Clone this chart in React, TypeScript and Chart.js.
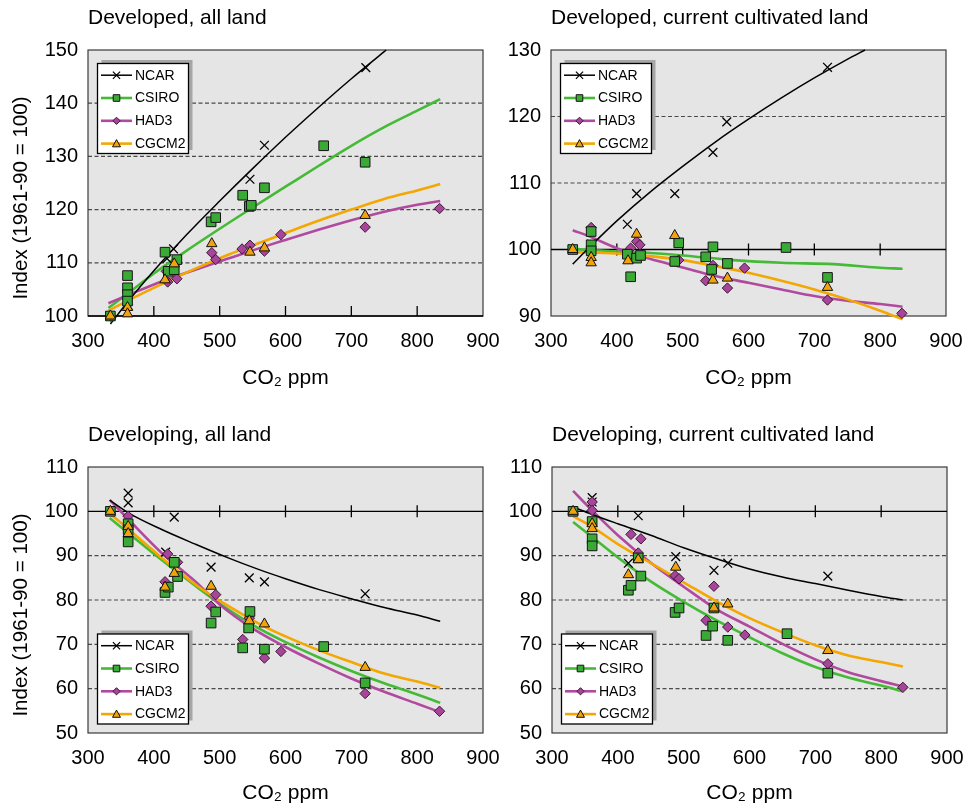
import React, { useEffect, useRef } from 'react';
import { Chart, registerables } from 'chart.js';

Chart.register(...registerables);

type Pt = [number, number];

// ---------- shared categories / ticks ----------
const SERIES = ['NCAR', 'CSIRO', 'HAD3', 'CGCM2'];
const X_TICKS = [300, 400, 500, 600, 700, 800, 900];
const BASELINE = 100;
const X_TITLE = 'CO₂ ppm';
const Y_TITLE = 'Index (1961-90 = 100)';

// ---------- Panel 1: Developed, all land ----------
const p1YTicks = [100, 110, 120, 130, 140, 150];
const p1Dashed = [110, 120, 130, 140];
const p1NcarLine: Pt[] = [[334, 98.5], [362, 102.9], [400, 108.5], [450, 115.3], [500, 121.6], [550, 127.7], [600, 133.6], [650, 139.2], [700, 144.6], [750, 149.7], [753, 150]];
const p1CsiroLine: Pt[] = [[331, 101.5], [360, 104.2], [400, 108.0], [450, 112.3], [500, 116.4], [550, 120.4], [600, 124.3], [650, 128.2], [700, 132.0], [750, 135.5], [800, 138.6], [835, 140.75]];
const p1Had3Line: Pt[] = [[331, 102.4], [362, 104.0], [412, 106.5], [463, 108.7], [513, 110.8], [564, 112.9], [600, 114.3], [650, 116.2], [700, 118.0], [750, 119.6], [800, 120.9], [835, 121.6]];
const p1Cgcm2Line: Pt[] = [[331, 101.0], [362, 103.0], [412, 106.0], [463, 108.9], [513, 111.5], [564, 113.9], [600, 115.6], [650, 117.9], [700, 120.0], [750, 122.0], [800, 123.6], [835, 124.8]];
const p1NcarPts: Pt[] = [[334, 100], [361, 102], [420, 110.8], [430, 112.6], [546, 125.7], [568, 132.1], [722, 146.7]];
const p1CsiroPts: Pt[] = [[334, 100], [360, 107.6], [360, 105.3], [360, 104.0], [360, 102.8], [417, 112.0], [422, 108.4], [431, 108.7], [435, 110.6], [487, 117.7], [494, 118.5], [535, 122.7], [545, 120.6], [548, 120.8], [568, 124.1], [658, 132.0], [721, 128.9]];
const p1Had3Pts: Pt[] = [[334, 100], [360, 102.2], [419, 108.4], [421, 106.4], [435, 107.0], [488, 111.9], [494, 110.6], [534, 112.6], [546, 113.3], [568, 112.2], [593, 115.3], [721, 116.7], [834, 120.2]];
const p1Cgcm2Pts: Pt[] = [[334, 100], [360, 101.6], [360, 100.4], [417, 106.8], [431, 109.8], [488, 113.6], [546, 112.0], [568, 112.8], [721, 118.9]];

// ---------- Panel 2: Developed, current cultivated land ----------
const p2YTicks = [90, 100, 110, 120, 130];
const p2Dashed = [110, 120];
const p2NcarLine: Pt[] = [[333, 97.8], [355, 100], [400, 104.3], [450, 108.6], [500, 112.5], [550, 116.2], [600, 119.6], [650, 122.8], [700, 125.8], [750, 128.6], [777, 130]];
const p2CsiroLine: Pt[] = [[333, 100.1], [400, 99.7], [446, 99.5], [500, 99.1], [577, 98.4], [650, 98.0], [729, 97.8], [795, 97.3], [834, 97.1]];
const p2Had3Line: Pt[] = [[333, 102.9], [360, 101.9], [400, 100.2], [450, 98.6], [500, 97.3], [550, 96.0], [600, 95.0], [650, 94.0], [700, 93.0], [750, 92.3], [800, 91.8], [834, 91.4]];
const p2Cgcm2Line: Pt[] = [[333, 99.6], [400, 99.4], [450, 99.0], [500, 98.4], [550, 97.5], [600, 96.5], [650, 95.3], [700, 94.0], [750, 92.5], [800, 90.8], [834, 89.5]];
const p2NcarPts: Pt[] = [[333, 100], [361, 100.8], [416, 103.8], [430, 108.4], [488, 108.4], [546, 114.6], [567, 119.2], [720, 127.4]];
const p2CsiroPts: Pt[] = [[333, 100], [361, 102.7], [361, 100.7], [361, 99.8], [416, 99.3], [421, 95.9], [430, 98.7], [436, 99.1], [488, 98.2], [494, 101.0], [535, 98.9], [544, 97.0], [546, 100.4], [568, 97.9], [657, 100.3], [720, 95.8]];
const p2Had3Pts: Pt[] = [[361, 103.3], [421, 100.2], [430, 101.2], [435, 100.7], [494, 98.4], [535, 95.3], [546, 97.6], [568, 94.2], [594, 97.2], [720, 92.4], [833, 90.4]];
const p2Cgcm2Pts: Pt[] = [[333, 100], [361, 98.8], [361, 98.0], [417, 98.3], [430, 102.3], [488, 102.1], [546, 95.4], [568, 95.7], [720, 94.3]];

// ---------- Panel 3: Developing, all land ----------
const p3YTicks = [50, 60, 70, 80, 90, 100, 110];
const p3Dashed = [60, 70, 80, 90];
const p3NcarLine: Pt[] = [[333, 102.5], [362, 99.6], [412, 95.9], [463, 92.6], [513, 89.5], [559, 86.9], [600, 84.8], [650, 82.4], [700, 80.3], [750, 78.3], [800, 76.6], [835, 75.2]];
const p3CsiroLine: Pt[] = [[333, 98.5], [362, 95.0], [412, 89.0], [463, 83.2], [500, 79.2], [550, 74.4], [600, 70.5], [650, 67.1], [700, 64.0], [750, 61.2], [800, 58.7], [835, 56.8]];
const p3Had3Line: Pt[] = [[333, 102.6], [362, 98.1], [412, 90.6], [463, 84.2], [500, 79.0], [550, 73.6], [600, 69.4], [650, 65.7], [700, 62.3], [750, 59.3], [800, 56.6], [835, 54.7]];
const p3Cgcm2Line: Pt[] = [[333, 99.5], [362, 95.9], [412, 89.5], [463, 83.5], [518, 78.2], [568, 74.0], [600, 71.8], [650, 68.7], [700, 66.0], [750, 63.4], [800, 61.6], [835, 60.2]];
const p3NcarPts: Pt[] = [[334, 100], [361, 104.1], [361, 101.9], [418, 90.8], [431, 98.7], [487, 87.4], [545, 85.0], [568, 84.1], [721, 81.4]];
const p3CsiroPts: Pt[] = [[334, 100], [361, 97.2], [361, 95.8], [361, 93.1], [417, 81.7], [422, 82.9], [431, 88.5], [436, 85.3], [487, 74.8], [494, 77.3], [535, 69.2], [544, 73.7], [546, 77.4], [568, 68.9], [658, 69.5], [721, 61.3]];
const p3Had3Pts: Pt[] = [[361, 98.9], [417, 84.1], [421, 90.4], [436, 88.5], [487, 78.6], [494, 81.2], [535, 71.1], [545, 75.9], [568, 66.9], [593, 68.4], [721, 58.9], [834, 54.9]];
const p3Cgcm2Pts: Pt[] = [[334, 100], [361, 96.6], [361, 95.0], [417, 82.9], [431, 86.0], [487, 83.1], [545, 75.3], [568, 74.6], [721, 64.8]];

// ---------- Panel 4: Developing, current cultivated land ----------
const p4YTicks = [50, 60, 70, 80, 90, 100, 110];
const p4Dashed = [60, 70, 80, 90];
const p4NcarLine: Pt[] = [[332, 101.0], [361, 99.3], [400, 97.2], [450, 94.6], [500, 91.8], [550, 89.3], [600, 87.0], [650, 85.2], [700, 83.7], [750, 82.2], [800, 80.8], [833, 80.0]];
const p4CsiroLine: Pt[] = [[332, 97.6], [361, 94.2], [400, 89.6], [450, 84.2], [500, 79.6], [550, 75.4], [600, 71.6], [650, 68.0], [700, 64.9], [750, 62.5], [800, 60.7], [833, 59.4]];
const p4Had3Line: Pt[] = [[332, 104.6], [361, 100.2], [400, 94.6], [450, 88.4], [500, 83.0], [550, 77.9], [600, 74.0], [650, 70.1], [700, 66.6], [750, 63.7], [800, 61.7], [833, 60.5]];
const p4Cgcm2Line: Pt[] = [[332, 98.9], [361, 96.5], [400, 92.6], [450, 88.3], [500, 84.0], [550, 79.7], [600, 75.9], [650, 72.7], [700, 69.8], [750, 67.5], [800, 66.0], [833, 65.0]];
const p4NcarPts: Pt[] = [[332, 100], [361, 103.1], [361, 102.1], [416, 88.3], [431, 99.0], [488, 89.8], [546, 86.7], [567, 88.3], [719, 85.4]];
const p4CsiroPts: Pt[] = [[332, 100], [361, 97.7], [361, 93.8], [361, 92.2], [416, 82.2], [420, 83.3], [431, 89.5], [435, 85.4], [487, 77.2], [493, 78.2], [534, 72.0], [544, 74.1], [546, 78.2], [567, 70.9], [657, 72.4], [719, 63.5]];
const p4Had3Pts: Pt[] = [[361, 102.1], [361, 100.2], [420, 94.8], [431, 90.6], [435, 93.8], [487, 85.5], [493, 84.8], [534, 75.4], [546, 83.1], [567, 73.9], [593, 72.1], [719, 65.6], [833, 60.3]];
const p4Cgcm2Pts: Pt[] = [[332, 100], [361, 97.2], [361, 96.1], [416, 85.7], [431, 89.1], [488, 87.4], [546, 78.2], [567, 79.1], [719, 68.6]];

// ---------- styles ----------
const FONT = "'Liberation Sans', Arial, Helvetica, sans-serif";
const STYLES = [
  { line: '#000000', lw: 1.5, style: 'crossRot', fill: '#000000', border: '#000000', r: 6.2, bw: 1.3, lineOrder: 20, ptOrder: 4 },
  { line: '#45ba36', lw: 2.6, style: 'rect', fill: '#3aa935', border: '#151515', r: 6.8, bw: 1, lineOrder: 23, ptOrder: 2 },
  { line: '#b14a9f', lw: 2.6, style: 'rectRot', fill: '#a8459a', border: '#3a1a35', r: 5.2, bw: 1, lineOrder: 22, ptOrder: 3 },
  { line: '#f3a700', lw: 2.6, style: 'triangle', fill: '#f2a30c', border: '#111111', r: 6, bw: 1, lineOrder: 21, ptOrder: 1 },
];

interface PanelCfg {
  title: string;
  yTicks: number[];
  dashed: number[];
  lines: Pt[][];
  pts: Pt[][];
  legendAt: 'top' | 'bottom';
  showYTitle: boolean;
  left: number;
  top: number;
  width: number;
  height: number;
  padRight: number;
  xAxisH: number;
  xTitlePad: number;
}

const PANELS: PanelCfg[] = [
  { title: 'Developed, all land', yTicks: p1YTicks, dashed: p1Dashed, lines: [p1NcarLine, p1CsiroLine, p1Had3Line, p1Cgcm2Line], pts: [p1NcarPts, p1CsiroPts, p1Had3Pts, p1Cgcm2Pts], legendAt: 'top', showYTitle: true, left: 0, top: 0, width: 520, height: 396, padRight: 37, xAxisH: 80, xTitlePad: 5 },
  { title: 'Developed, current cultivated land', yTicks: p2YTicks, dashed: p2Dashed, lines: [p2NcarLine, p2CsiroLine, p2Had3Line, p2Cgcm2Line], pts: [p2NcarPts, p2CsiroPts, p2Had3Pts, p2Cgcm2Pts], legendAt: 'top', showYTitle: false, left: 463, top: 0, width: 502, height: 396, padRight: 19, xAxisH: 80, xTitlePad: 5 },
  { title: 'Developing, all land', yTicks: p3YTicks, dashed: p3Dashed, lines: [p3NcarLine, p3CsiroLine, p3Had3Line, p3Cgcm2Line], pts: [p3NcarPts, p3CsiroPts, p3Had3Pts, p3Cgcm2Pts], legendAt: 'bottom', showYTitle: true, left: 0, top: 417, width: 520, height: 391, padRight: 37, xAxisH: 75, xTitlePad: 2 },
  { title: 'Developing, current cultivated land', yTicks: p4YTicks, dashed: p4Dashed, lines: [p4NcarLine, p4CsiroLine, p4Had3Line, p4Cgcm2Line], pts: [p4NcarPts, p4CsiroPts, p4Had3Pts, p4Cgcm2Pts], legendAt: 'bottom', showYTitle: false, left: 464, top: 417, width: 501, height: 391, padRight: 18, xAxisH: 75, xTitlePad: 2 },
];

const toXY = (arr: Pt[]) => arr.map(([x, y]) => ({ x, y }));

function drawLegendMarker(ctx: CanvasRenderingContext2D, i: number, x: number, y: number) {
  const st = STYLES[i];
  ctx.save();
  ctx.lineWidth = 1;
  ctx.fillStyle = st.fill;
  ctx.strokeStyle = st.border;
  ctx.beginPath();
  if (st.style === 'crossRot') {
    const d = 3.6;
    ctx.lineWidth = 1.2;
    ctx.moveTo(x - d, y - d); ctx.lineTo(x + d, y + d);
    ctx.moveTo(x - d, y + d); ctx.lineTo(x + d, y - d);
    ctx.stroke();
  } else if (st.style === 'rect') {
    const s = 3.3;
    ctx.rect(x - s, y - s, 2 * s, 2 * s);
    ctx.fill(); ctx.stroke();
  } else if (st.style === 'rectRot') {
    const s = 3.6;
    ctx.moveTo(x, y - s); ctx.lineTo(x + s, y); ctx.lineTo(x, y + s); ctx.lineTo(x - s, y); ctx.closePath();
    ctx.fill(); ctx.stroke();
  } else {
    const s = 4;
    ctx.moveTo(x, y - s); ctx.lineTo(x + s, y + s * 0.8); ctx.lineTo(x - s, y + s * 0.8); ctx.closePath();
    ctx.fill(); ctx.stroke();
  }
  ctx.restore();
}

function Panel({ cfg }: { cfg: PanelCfg }) {
  const ref = useRef<HTMLCanvasElement>(null);

  useEffect(() => {
    const canvas = ref.current;
    if (!canvas) return;
    const datasets: any[] = [];
    SERIES.forEach((name, i) => {
      const st = STYLES[i];
      datasets.push({
        label: name,
        data: toXY(cfg.lines[i]),
        borderColor: st.line,
        backgroundColor: st.line,
        borderWidth: st.lw,
        pointRadius: 0,
        fill: false,
        cubicInterpolationMode: 'monotone',
        clip: false,
        order: st.lineOrder,
      });
      datasets.push({
        label: name,
        data: toXY(cfg.pts[i]),
        showLine: false,
        pointStyle: st.style,
        pointRadius: st.r,
        pointBackgroundColor: st.fill,
        pointBorderColor: st.border,
        pointBorderWidth: st.bw,
        borderColor: st.border,
        backgroundColor: st.fill,
        clip: false,
        order: st.ptOrder,
      });
    });

    const yMin = cfg.yTicks[0];
    const yMax = cfg.yTicks[cfg.yTicks.length - 1];

    const decor = {
      id: 'decor',
      beforeDatasetsDraw(chart: any) {
        const { ctx, chartArea: a, scales } = chart;
        const xs = scales.x;
        const ys = scales.y;
        ctx.save();
        ctx.fillStyle = '#e5e5e5';
        ctx.fillRect(a.left, a.top, a.right - a.left, a.bottom - a.top);
        ctx.strokeStyle = '#4a4a4a';
        ctx.lineWidth = 1.2;
        ctx.setLineDash([4, 2.5]);
        cfg.dashed.forEach((v) => {
          const py = ys.getPixelForValue(v);
          ctx.beginPath();
          ctx.moveTo(a.left, py);
          ctx.lineTo(a.right, py);
          ctx.stroke();
        });
        ctx.setLineDash([]);
        ctx.strokeStyle = '#3a3a3a';
        ctx.lineWidth = 1.2;
        ctx.strokeRect(a.left, a.top, a.right - a.left, a.bottom - a.top);
        const by = ys.getPixelForValue(BASELINE);
        ctx.strokeStyle = '#000';
        ctx.lineWidth = 1.3;
        ctx.beginPath();
        ctx.moveTo(a.left, by);
        ctx.lineTo(a.right, by);
        ctx.stroke();
        const atBottom = Math.abs(by - a.bottom) < 1;
        X_TICKS.forEach((t) => {
          if (t <= xs.min || t >= xs.max) return;
          const px = xs.getPixelForValue(t);
          ctx.beginPath();
          ctx.moveTo(px, atBottom ? by - 10 : by - 6);
          ctx.lineTo(px, atBottom ? by : by + 6);
          ctx.stroke();
        });
        ctx.restore();
      },
      afterDatasetsDraw(chart: any) {
        const { ctx, chartArea: a } = chart;
        const w = 91;
        const h = 90;
        const bx = a.left + 9.5;
        const by = cfg.legendAt === 'top' ? a.top + 13.5 : a.bottom - 9 - h;
        ctx.save();
        ctx.fillStyle = '#a6a6a6';
        ctx.fillRect(bx + 4, by - 3.5, w, h);
        ctx.fillStyle = '#ffffff';
        ctx.fillRect(bx, by, w, h);
        ctx.strokeStyle = '#000';
        ctx.lineWidth = 1.3;
        ctx.strokeRect(bx, by, w, h);
        ctx.font = `14px ${FONT}`;
        ctx.textAlign = 'left';
        ctx.textBaseline = 'middle';
        SERIES.forEach((name, i) => {
          const st = STYLES[i];
          const ry = by + 11.7 + i * 22.8;
          ctx.strokeStyle = st.line;
          ctx.lineWidth = st.lw;
          ctx.beginPath();
          ctx.moveTo(bx + 3.5, ry);
          ctx.lineTo(bx + 34.5, ry);
          ctx.stroke();
          drawLegendMarker(ctx, i, bx + 19, ry);
          ctx.fillStyle = '#000';
          ctx.fillText(name, bx + 37.5, ry + 0.5);
        });
        ctx.restore();
      },
      afterDraw(chart: any) {
        if (!cfg.showYTitle) return;
        const { ctx, chartArea: a } = chart;
        ctx.save();
        ctx.translate(21, a.top + 148);
        ctx.rotate(-Math.PI / 2);
        ctx.font = `20.6px ${FONT}`;
        ctx.fillStyle = '#000';
        ctx.textAlign = 'center';
        ctx.textBaseline = 'middle';
        ctx.fillText(Y_TITLE, 0, 0);
        ctx.restore();
      },
    };

    const chart = new Chart(canvas, {
      type: 'line',
      data: { datasets },
      plugins: [decor],
      options: {
        responsive: false,
        animation: false,
        events: [],
        layout: { padding: { left: 0, right: cfg.padRight, top: 0, bottom: 0 } },
        plugins: {
          legend: { display: false },
          tooltip: { enabled: false },
          title: {
            display: true,
            text: cfg.title,
            align: 'start',
            fullSize: false,
            color: '#000',
            font: { family: FONT, size: 21, weight: 'normal', lineHeight: 1.2 },
            padding: { top: 6, bottom: 18.8 },
          },
        },
        scales: {
          x: {
            type: 'linear',
            min: X_TICKS[0],
            max: X_TICKS[X_TICKS.length - 1],
            afterBuildTicks: (s: any) => { s.ticks = X_TICKS.map((v) => ({ value: v })); },
            ticks: { color: '#000', font: { family: FONT, size: 20 }, padding: 13, maxRotation: 0, autoSkip: false },
            grid: { display: false, drawTicks: false },
            border: { display: false },
            title: { display: true, text: X_TITLE, color: '#000', font: { family: FONT, size: 21, lineHeight: 1.2 }, padding: { top: 0, bottom: cfg.xTitlePad } },
            afterFit: (s: any) => {
              s.height = cfg.xAxisH;
              s.paddingLeft = 0;
              s.paddingRight = 0;
            },
          },
          y: {
            type: 'linear',
            min: yMin,
            max: yMax,
            afterBuildTicks: (s: any) => { s.ticks = cfg.yTicks.map((v) => ({ value: v })); },
            ticks: { color: '#000', font: { family: FONT, size: 20 }, padding: 10 },
            grid: { display: false, drawTicks: false },
            border: { display: false },
            afterFit: (s: any) => {
              s.width = 88;
              s.paddingTop = 0;
              s.paddingBottom = 0;
            },
          },
        },
      } as any,
    });
    return () => chart.destroy();
  }, [cfg]);

  return (
    <canvas
      ref={ref}
      width={cfg.width}
      height={cfg.height}
      style={{ position: 'absolute', left: cfg.left, top: cfg.top, width: cfg.width, height: cfg.height }}
    />
  );
}

export default function App() {
  return (
    <div style={{ position: 'absolute', left: 0, top: 0, width: 965, height: 808, overflow: 'hidden', background: '#ffffff' }}>
      {PANELS.map((p, i) => (
        <Panel key={i} cfg={p} />
      ))}
    </div>
  );
}
